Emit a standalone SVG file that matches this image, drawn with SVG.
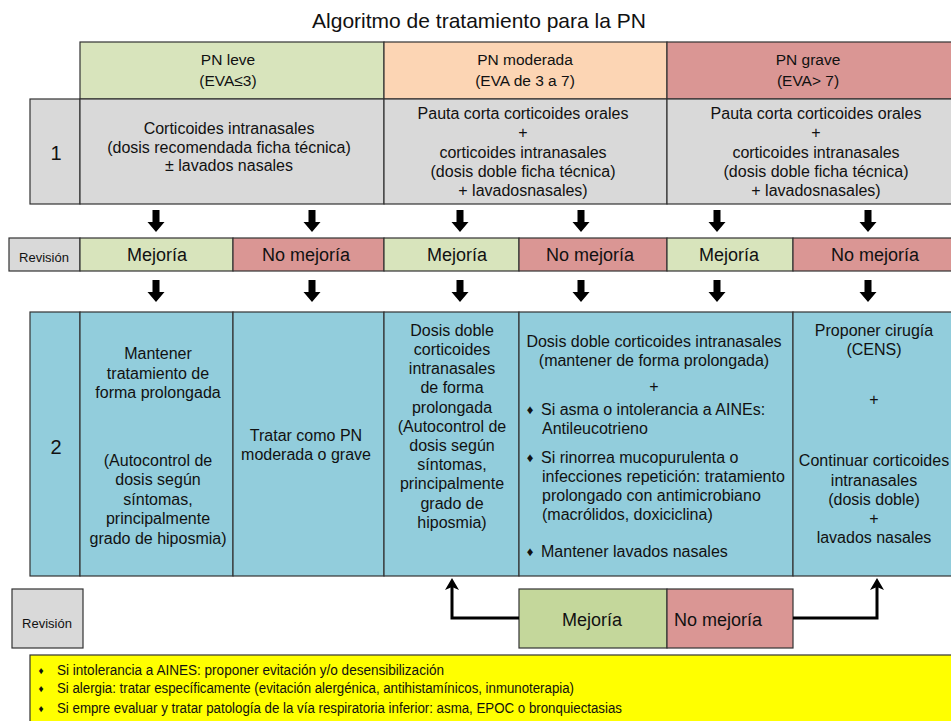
<svg xmlns="http://www.w3.org/2000/svg" width="951" height="721" viewBox="0 0 951 721">
<style>
text{font-family:"Liberation Sans",Arial,Helvetica,sans-serif;fill:#111}
.c{text-anchor:middle}
.cell{stroke:#333;stroke-width:1.2}
.gray{fill:#d9d9d9}
.hgreen{fill:#d8e4bc}
.horange{fill:#fcd5b4}
.hred{fill:#da9694}
.blue{fill:#92cddc}
.rgreen{fill:#d8e4bc}
.bgreen{fill:#c4d79b}
.t16{font-size:16px}
.t155{font-size:15.5px}
.t18{font-size:18px}
.t13{font-size:13px}
.num{font-size:20px}
.bul{font-size:10px}
.bul2{font-size:13px}
.conn{fill:none;stroke:#000;stroke-width:3}
</style>
<defs>
<path id="barrow" d="M-3.5,-22 H3.5 V-10 H8.5 L0,0 L-8.5,-10 H-3.5 Z" fill="#000"/>
<marker id="ah" viewBox="0 0 12 14" refX="8" refY="7" markerWidth="12" markerHeight="14" markerUnits="userSpaceOnUse" orient="auto">
<path d="M0,0 L12,7 L0,14 L3,7 Z" fill="#000"/>
</marker>
</defs>
<rect width="951" height="721" fill="#fff"/>
<text id="title" class="c" x="479" y="28" style="font-size:21px">Algoritmo de tratamiento para la PN</text>

<g id="header-leve"><rect class="cell hgreen" x="80" y="42" width="304" height="57"/>
<text class="c t155" x="228" y="65">PN leve</text><text class="c t155" x="228" y="86">(EVA≤3)</text></g>
<g id="header-moderada"><rect class="cell horange" x="384" y="42" width="283" height="57"/>
<text class="c t155" x="525" y="65">PN moderada</text><text class="c t155" x="525" y="86">(EVA de 3 a 7)</text></g>
<g id="header-grave"><rect class="cell hred" x="667" y="42" width="290" height="57"/>
<text class="c t155" x="808" y="65">PN grave</text><text class="c t155" x="808" y="86">(EVA&gt; 7)</text></g>

<g id="step1-label"><rect class="cell gray" x="30" y="99" width="50" height="105"/><text class="c num" x="56" y="160">1</text></g>
<g id="step1-leve"><rect class="cell gray" x="80" y="99" width="304" height="105"/>
<text class="c t16" x="229" y="134">Corticoides intranasales</text>
<text class="c t16" x="229" y="153">(dosis recomendada ficha técnica)</text>
<text class="c t16" x="229" y="171">± lavados nasales</text></g>
<g id="step1-moderada"><rect class="cell gray" x="384" y="99" width="283" height="105"/>
<text class="c t16" x="523" y="119">Pauta corta corticoides orales</text>
<text class="c t16" x="523" y="138">+</text>
<text class="c t16" x="523" y="158">corticoides intranasales</text>
<text class="c t16" x="523" y="177">(dosis doble ficha técnica)</text>
<text class="c t16" x="523" y="196">+ lavadosnasales)</text></g>
<g id="step1-grave"><rect class="cell gray" x="667" y="99" width="290" height="105"/>
<text class="c t16" x="816" y="119">Pauta corta corticoides orales</text>
<text class="c t16" x="816" y="138">+</text>
<text class="c t16" x="816" y="158">corticoides intranasales</text>
<text class="c t16" x="816" y="177">(dosis doble ficha técnica)</text>
<text class="c t16" x="816" y="196">+ lavadosnasales)</text></g>

<g id="rev1-label"><rect class="cell gray" x="9" y="238" width="71" height="33"/><text class="c t13" x="44" y="262">Revisión</text></g>
<g id="rev1-a"><rect class="cell rgreen" x="80" y="238" width="153" height="33"/><text class="c t18" x="157" y="261">Mejoría</text></g>
<g id="rev1-b"><rect class="cell hred" x="233" y="238" width="151" height="33"/><text class="c t18" x="306" y="261">No mejoría</text></g>
<g id="rev1-c"><rect class="cell rgreen" x="384" y="238" width="135" height="33"/><text class="c t18" x="457" y="261">Mejoría</text></g>
<g id="rev1-d"><rect class="cell hred" x="519" y="238" width="148" height="33"/><text class="c t18" x="590" y="261">No mejoría</text></g>
<g id="rev1-e"><rect class="cell rgreen" x="667" y="238" width="126" height="33"/><text class="c t18" x="729" y="261">Mejoría</text></g>
<g id="rev1-f"><rect class="cell hred" x="793" y="238" width="164" height="33"/><text class="c t18" x="875" y="261">No mejoría</text></g>

<g id="step2-label"><rect class="cell blue" x="30" y="312" width="50" height="264"/><text class="c num" x="56" y="454">2</text></g>
<g id="step2-a"><rect class="cell blue" x="80" y="312" width="153" height="264"/>
<text class="c t16" x="158" y="359">Mantener</text>
<text class="c t16" x="158" y="379">tratamiento de</text>
<text class="c t16" x="158" y="398">forma prolongada</text>
<text class="c t16" x="158" y="466">(Autocontrol de</text>
<text class="c t16" x="158" y="485">dosis según</text>
<text class="c t16" x="158" y="505">síntomas,</text>
<text class="c t16" x="158" y="524">principalmente</text>
<text class="c t16" x="158" y="544">grado de hiposmia)</text></g>
<g id="step2-b"><rect class="cell blue" x="233" y="312" width="151" height="264"/>
<text class="c t16" x="306" y="441">Tratar como PN</text>
<text class="c t16" x="306" y="460">moderada o grave</text></g>
<g id="step2-c"><rect class="cell blue" x="384" y="312" width="135" height="264"/>
<text class="c t16" x="452" y="336">Dosis doble</text>
<text class="c t16" x="452" y="355">corticoides</text>
<text class="c t16" x="452" y="374">intranasales</text>
<text class="c t16" x="452" y="393">de forma</text>
<text class="c t16" x="452" y="413">prolongada</text>
<text class="c t16" x="452" y="432">(Autocontrol de</text>
<text class="c t16" x="452" y="451">dosis según</text>
<text class="c t16" x="452" y="470">síntomas,</text>
<text class="c t16" x="452" y="489">principalmente</text>
<text class="c t16" x="452" y="509">grado de</text>
<text class="c t16" x="452" y="528">hiposmia)</text></g>
<g id="step2-d"><rect class="cell blue" x="519" y="312" width="274" height="264"/>
<text class="c t16" x="654" y="347">Dosis doble corticoides intranasales</text>
<text class="c t16" x="654" y="366">(mantener de forma prolongada)</text>
<text class="c t16" x="654" y="392">+</text>
<text class="c bul2" x="530" y="414">♦</text><text class="t16" x="541" y="415">Si asma o intolerancia a AINEs:</text>
<text class="t16" x="542" y="434">Antileucotrieno</text>
<text class="c bul2" x="530" y="462">♦</text><text class="t16" x="541" y="463">Si rinorrea mucopurulenta o</text>
<text class="t16" x="542" y="482">infecciones repetición: tratamiento</text>
<text class="t16" x="542" y="501">prolongado con antimicrobiano</text>
<text class="t16" x="542" y="520">(macrólidos, doxiciclina)</text>
<text class="c bul2" x="530" y="556">♦</text><text class="t16" x="541" y="557">Mantener lavados nasales</text></g>
<g id="step2-e"><rect class="cell blue" x="793" y="312" width="164" height="264"/>
<text class="c t16" x="874" y="336">Proponer cirugía</text>
<text class="c t16" x="874" y="355">(CENS)</text>
<text class="c t16" x="874" y="405">+</text>
<text class="c t16" x="874" y="466">Continuar corticoides</text>
<text class="c t16" x="874" y="486">intranasales</text>
<text class="c t16" x="874" y="505">(dosis doble)</text>
<text class="c t16" x="874" y="524">+</text>
<text class="c t16" x="874" y="543">lavados nasales</text></g>

<g id="rev2-label"><rect class="cell gray" x="12" y="589" width="71" height="59"/><text class="c t13" x="47" y="628">Revisión</text></g>
<g id="rev2-a"><rect class="cell bgreen" x="519" y="589" width="148" height="59"/><text class="c t18" x="592" y="626">Mejoría</text></g>
<g id="rev2-b"><rect class="cell hred" x="667" y="589" width="126" height="59"/><text class="t18" x="674" y="626">No mejoría</text></g>

<g id="notes"><rect x="30" y="655" width="925" height="70" fill="#ffff00" stroke="#333" stroke-width="1.2"/>
<text class="c bul" x="41" y="674">♦</text><text x="57" y="675" style="font-size:14px" textLength="387" lengthAdjust="spacingAndGlyphs">Si intolerancia a AINES: proponer evitación y/o desensibilización</text>
<text class="c bul" x="41" y="692">♦</text><text x="57" y="693" style="font-size:14px" textLength="517" lengthAdjust="spacingAndGlyphs">Si alergia: tratar específicamente (evitación alergénica, antihistamínicos, inmunoterapia)</text>
<text class="c bul" x="41" y="712">♦</text><text x="57" y="713" style="font-size:14px" textLength="565" lengthAdjust="spacingAndGlyphs">Si empre evaluar y tratar patología de la vía respiratoria inferior: asma, EPOC o bronquiectasias</text></g>

<g id="connectors">
<use href="#barrow" x="156" y="232"/><use href="#barrow" x="312" y="232"/><use href="#barrow" x="460" y="232"/>
<use href="#barrow" x="581" y="232"/><use href="#barrow" x="717" y="232"/><use href="#barrow" x="868" y="232"/>
<use href="#barrow" x="156" y="302"/><use href="#barrow" x="312" y="302"/><use href="#barrow" x="460" y="302"/>
<use href="#barrow" x="581" y="302"/><use href="#barrow" x="717" y="302"/><use href="#barrow" x="868" y="302"/>
<path class="conn" d="M519,618 H452 V582" marker-end="url(#ah)"/>
<path class="conn" d="M793,618 H877 V582" marker-end="url(#ah)"/>
</g>
</svg>
